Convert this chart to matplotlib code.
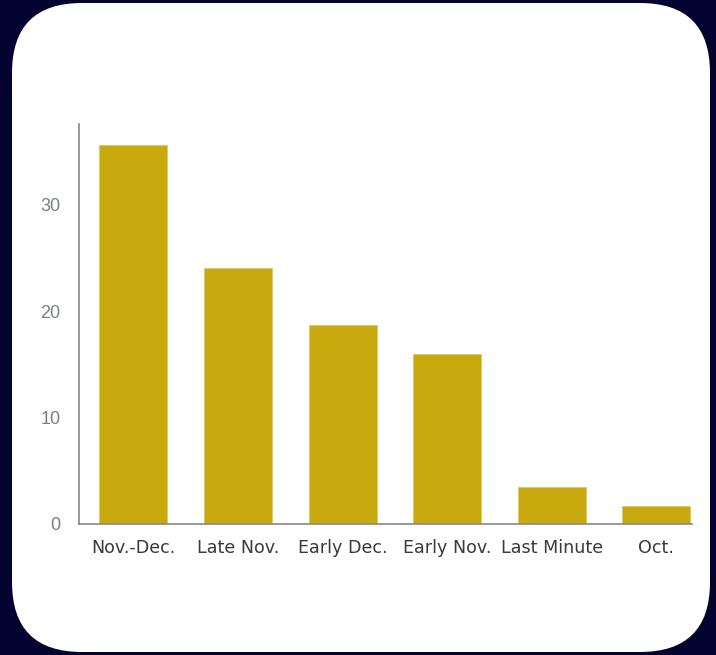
import matplotlib
matplotlib.use("Agg")
import matplotlib.pyplot as plt
from matplotlib.patches import FancyBboxPatch

categories = ["Nov.-Dec.", "Late Nov.", "Early Dec.", "Early Nov.", "Last Minute", "Oct."]
values = [35.6, 24.1, 18.7, 16.0, 3.5, 1.7]
yticks = [0, 10, 20, 30]

W, H = 716, 655
fig = plt.figure(figsize=(W / 100, H / 100), dpi=100)
fig.patch.set_facecolor("#04032F")

# background axes in pixel coordinates for the white rounded card
bg = fig.add_axes([0, 0, 1, 1], zorder=-1)
bg.set_xlim(0, W)
bg.set_ylim(H, 0)
bg.axis("off")
x0, y0, x1, y1 = 12, 3, 710, 652
r = 70
bg.add_patch(FancyBboxPatch((x0, y0), x1 - x0, y1 - y0,
                            boxstyle=f"round,pad=0,rounding_size={r}",
                            facecolor="white", edgecolor="none"))

ax_l, ax_r, ax_t, ax_b = 79, 692, 124, 524
ax = fig.add_axes([ax_l / W, 1 - ax_b / H, (ax_r - ax_l) / W, (ax_b - ax_t) / H], zorder=1)
ax.set_facecolor("none")

ax.bar(range(len(categories)), values, width=0.65, color="#C9AA0E",
       edgecolor="#DCC860", linewidth=0.6, zorder=2)
ax.set_xlim(-0.52, 5.34)
ax.set_ylim(0, 37.6)
ax.set_yticks(yticks)
ax.set_xticks(range(len(categories)))
ax.set_xticklabels(categories)

for s in ["top", "right"]:
    ax.spines[s].set_visible(False)
for s in ["left", "bottom"]:
    ax.spines[s].set_color("#888888")
    ax.spines[s].set_linewidth(1.2)

ax.tick_params(axis="y", length=0, pad=13.5, labelsize=13, labelcolor="#7A7F86")
ax.tick_params(axis="x", length=0, pad=11, labelsize=12.6, labelcolor="#3A3A3A")
for lab in ax.get_xticklabels():
    lab.set_fontfamily("DejaVu Sans")
for lab in ax.get_yticklabels():
    lab.set_fontfamily("Liberation Sans")

fig.savefig("out.png", dpi=100, facecolor=fig.get_facecolor())
